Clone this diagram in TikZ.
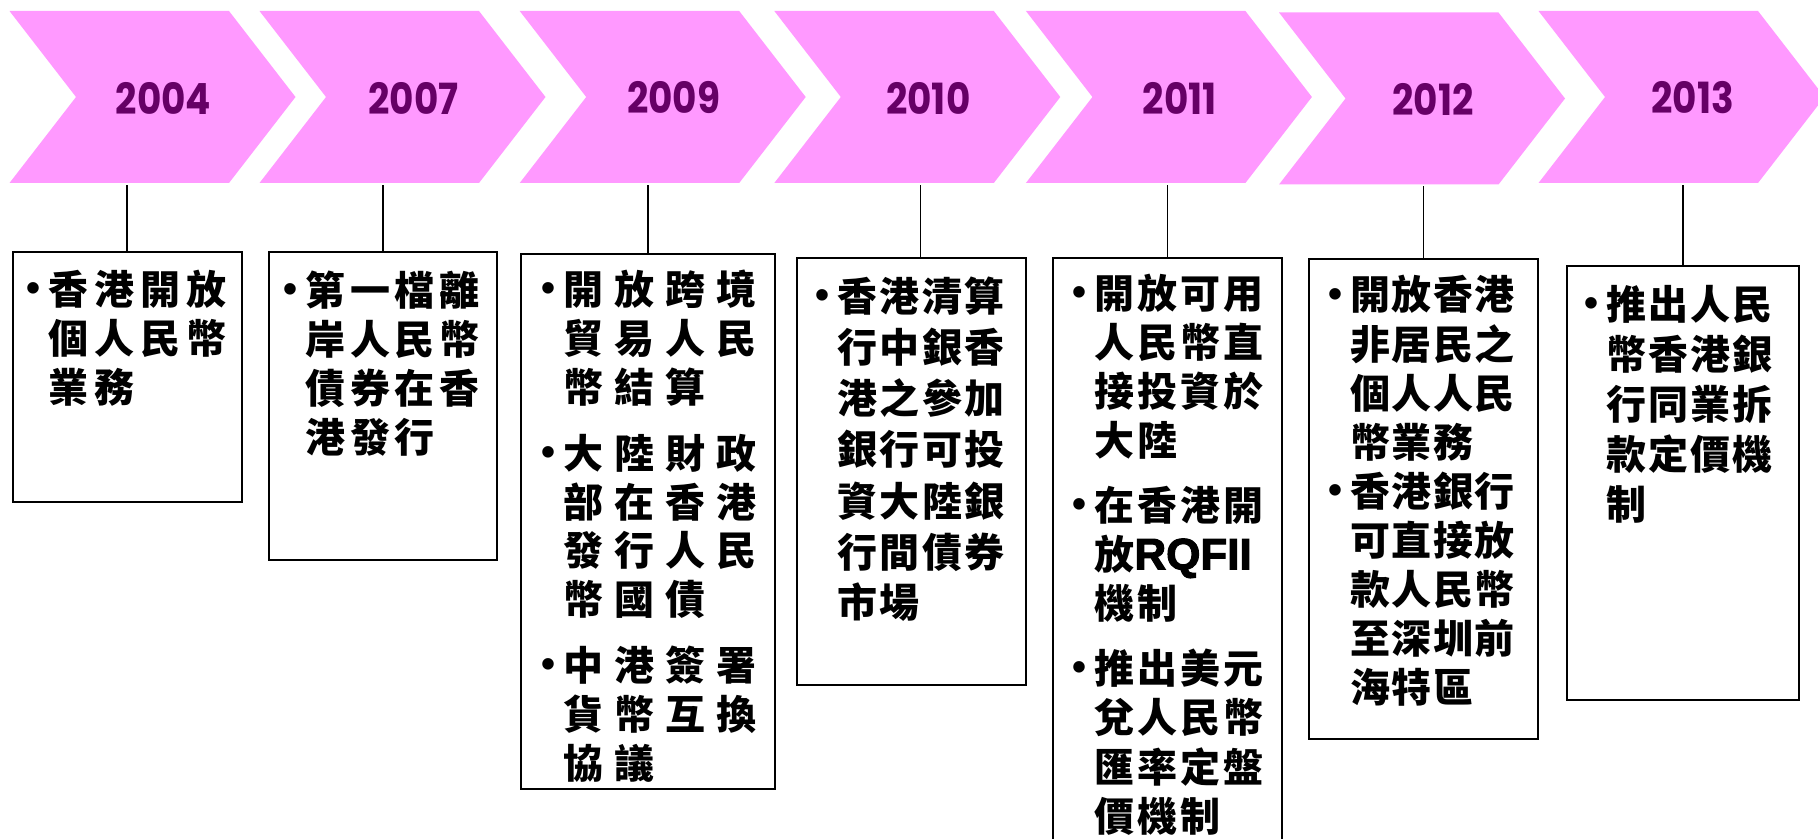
\documentclass[tikz,border=0pt]{standalone}
\usepackage{fontspec}
\setmainfont{Liberation Sans}
\newfontfamily\cjk{Noto Sans CJK TC}
\newfontfamily\yearfont{Poppins}[FakeStretch=0.87]
\newfontfamily\rqfont{Liberation Sans}[FakeBold=2.5]
\usetikzlibrary{positioning,calc}

\definecolor{chevpink}{HTML}{FF99FF}
\definecolor{yearpurple}{HTML}{660066}

% bullet column of the event lists
\newcommand{\bul}{\makebox[11pt][l]{\rmfamily\raisebox{1.5pt}{•}}}

\begin{document}
\begin{tikzpicture}[
    x=0.5pt, y=-0.5pt,
    chev/.style={fill=chevpink},
    year/.style={text=yearpurple, inner sep=0pt, font=\yearfont\bfseries\fontsize{21.5}{22}\selectfont},
    box/.style={draw, line width=1pt, anchor=north west, inner sep=0pt},
    list/.style={anchor=base west, inner sep=0pt, font=\cjk\bfseries\fontsize{20}{#1}\selectfont},
    link/.style={line width=0.8pt}
]
\useasboundingbox (0,0) rectangle (1818,839);
\clip (0,0) rectangle (1818,839);

% chevrons with the years
\foreach \yr/\xl/\dy in {2004/9.5/0, 2007/259.5/0, 2009/519.7/0, 2010/774.3/0,
                         2011/1025.9/0, 2012/1279/1.5, 2013/1538.5/0} {
  \fill[chev] (\xl,11+\dy) -- ++(219.5,0) -- ++(66.5,86) -- ++(-66.5,86)
              -- ++(-219.5,0) -- ++(66.5,-86) -- cycle;
  \node[year] (y\yr) at (\xl+154,98+\dy) {\yr};
  \coordinate (c\yr) at (\xl,185+\dy);
}

% event boxes
\node[box, minimum width=114.4pt, minimum height=124.9pt] (b2004) at (11.7,251) {};
\node[box, minimum width=114pt, minimum height=153.7pt] (b2007) at (268,251.5) {};
\node[box, minimum width=127.2pt, minimum height=267.8pt] (b2009) at (520,252.7) {};
\node[box, minimum width=114.3pt, minimum height=213.3pt] (b2010) at (796,257) {};
\node[box, minimum width=114.5pt, minimum height=300pt] (b2011) at (1052,257) {};
\node[box, minimum width=114.8pt, minimum height=240.2pt] (b2012) at (1307.5,258) {};
\node[box, minimum width=115.8pt, minimum height=217pt] (b2013) at (1566,265) {};

\node[list=24pt] (t2004) at ($(b2004.north west)+(14.5,54)$) {\addfontfeature{LetterSpace=15}%
\begin{tabular}[t]{@{}l@{}l@{}}
\bul & 香港開放\\
     & 個人民幣\\
     & 業務
\end{tabular}};

\node[list=24.5pt] (t2007) at ($(b2007.north west)+(15,54)$) {\addfontfeature{LetterSpace=12}%
\begin{tabular}[t]{@{}l@{}l@{}}
\bul & 第一檔離\\
     & 岸人民幣\\
     & 債券在香\\
     & 港發行
\end{tabular}};

\node[list=24pt] (t2009) at ($(b2009.north west)+(21.5,52.3)$) {\addfontfeature{LetterSpace=27}%
\begin{tabular}[t]{@{}l@{}l@{}}
\bul & 開放跨境\\
     & 貿易人民\\
     & 幣結算\\[8.5pt]
\bul & 大陸財政\\
     & 部在香港\\
     & 發行人民\\
     & 幣國債\\[8.5pt]
\bul & 中港簽署\\
     & 貨幣互換\\
     & 協議
\end{tabular}};

\node[list=25.5pt] (t2010) at ($(b2010.north west)+(19,55)$) {\addfontfeature{LetterSpace=6}%
\begin{tabular}[t]{@{}l@{}l@{}}
\bul & 香港清算\\
     & 行中銀香\\
     & 港之參加\\
     & 銀行可投\\
     & 資大陸銀\\
     & 行間債券\\
     & 市場
\end{tabular}};

\node[list=24.5pt] (t2011) at ($(b2011.north west)+(20,51)$) {\addfontfeature{LetterSpace=8}%
\begin{tabular}[t]{@{}l@{}l@{}}
\bul & 開放可用\\
     & 人民幣直\\
     & 接投資於\\
     & 大陸\\[8pt]
\bul & 在香港開\\
     & 放{\rqfont\fontsize{22}{24.5}\selectfont RQFII}\\
     & 機制\\[8pt]
\bul & 推出美元\\
     & 兌人民幣\\
     & 匯率定盤\\
     & 價機制
\end{tabular}};

\node[list=24.5pt] (t2012) at ($(b2012.north west)+(20.3,52)$) {\addfontfeature{LetterSpace=4}%
\begin{tabular}[t]{@{}l@{}l@{}}
\bul & 開放香港\\
     & 非居民之\\
     & 個人人民\\
     & 幣業務\\
\bul & 香港銀行\\
     & 可直接放\\
     & 款人民幣\\
     & 至深圳前\\
     & 海特區
\end{tabular}};

\node[list=25pt] (t2013) at ($(b2013.north west)+(18,55)$) {\addfontfeature{LetterSpace=5}%
\begin{tabular}[t]{@{}l@{}l@{}}
\bul & 推出人民\\
     & 幣香港銀\\
     & 行同業拆\\
     & 款定價機\\
     & 制
\end{tabular}};

% connectors from the chevrons down to the boxes
\draw[link] (b2004.north) -- (b2004.north |- c2004);
\draw[link] (b2007.north) -- (b2007.north |- c2007);
\draw[link] (b2009.north) -- (b2009.north |- c2009);
\draw[link] ([xshift=4.5pt]b2010.north) -- ([xshift=4.5pt]b2010.north |- c2010);
\draw[link] (b2011.north) -- (b2011.north |- c2011);
\draw[link] (b2012.north) -- (b2012.north |- c2012);
\draw[link] (b2013.north) -- (b2013.north |- c2013);
\end{tikzpicture}
\end{document}
